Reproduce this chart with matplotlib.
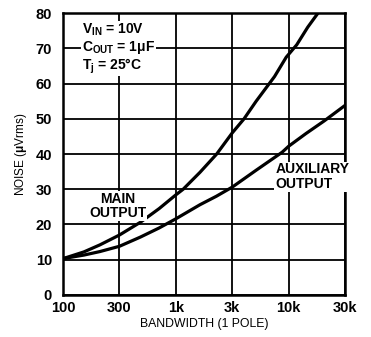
import numpy as np
import matplotlib
matplotlib.use("Agg")
import matplotlib.pyplot as plt

# tick positions (equally spaced on the chart)
tick_hz = [100, 300, 1000, 3000, 10000, 30000]
tick_labels = ["100", "300", "1k", "3k", "10k", "30k"]

# noise curves
main_hz = [100, 150, 205, 300, 468, 700, 1000, 1153, 1600, 2216, 3000, 3860,
           5000, 7400, 9500, 11700, 14500, 17700]
main_uv = [10.3, 12.2, 14.2, 17.0, 20.6, 24.5, 28.4, 30.0, 34.8, 40.0, 46.0, 50.0,
           55.0, 62.0, 67.5, 71.0, 76.0, 80.0]
aux_hz = [100, 150, 205, 300, 468, 700, 1000, 1600, 2200, 3000, 5000, 8700,
          10000, 14000, 20000, 30000]
aux_uv = [10.3, 11.3, 12.3, 13.8, 16.4, 19.0, 21.6, 25.6, 28.0, 30.6, 35.4, 40.5,
          42.2, 45.8, 49.4, 53.8]

plt.rcParams['font.family'] = ['Liberation Sans', 'DejaVu Sans']
plt.rcParams['font.weight'] = 'bold'
plt.rcParams['mathtext.fontset'] = 'custom'
plt.rcParams['mathtext.rm'] = 'Liberation Sans:bold'
plt.rcParams['mathtext.it'] = 'Liberation Sans:bold'
plt.rcParams['mathtext.bf'] = 'Liberation Sans:bold'

logt = np.log10(tick_hz)
idx = np.arange(len(tick_hz))


def fwd(x):
    return np.interp(np.log10(np.clip(x, 1e-9, None)), logt, idx)


def inv(p):
    return 10 ** np.interp(p, idx, logt)


fig = plt.figure(figsize=(3.71, 3.37), dpi=100)
ax = fig.add_axes([0.170, 0.125, 0.760, 0.836])
ax.set_xscale('function', functions=(fwd, inv))
ax.set_xlim(100, 30000)
ax.set_ylim(0, 80)
ax.set_xticks(tick_hz)
ax.set_xticklabels(tick_labels)
ax.set_yticks(range(0, 81, 10))
ax.minorticks_off()
ax.tick_params(length=0, labelsize=10.5)
ax.tick_params(axis='x', pad=4.5)
ax.tick_params(axis='y', pad=8)
ax.grid(True, color='black', lw=1.3)
for s in ax.spines.values():
    s.set_linewidth(1.8)

ax.plot(main_hz, main_uv, color='black', lw=2.3, solid_capstyle='round',
        solid_joinstyle='round', zorder=3)
ax.plot(aux_hz, aux_uv, color='black', lw=2.3, solid_capstyle='round',
        solid_joinstyle='round', zorder=3)

box = dict(facecolor='white', edgecolor='none', pad=0.5)
ax.text(145, 75.3, r'V$_{\rm IN}$ = 10V', fontsize=10, va='center', bbox=box, zorder=4)
ax.text(145, 70.2, r'C$_{\rm OUT}$ = 1$\mu$F', fontsize=10, va='center', bbox=box, zorder=4)
ax.text(145, 65.0, r'T$_{\rm j}$ = 25°C', fontsize=10, va='center', bbox=box, zorder=4)
ax.text(290, 25.2, 'MAIN\nOUTPUT', fontsize=10, ha='center', va='center',
        linespacing=1.05, bbox=box, zorder=4)
ax.text(7500, 33.6, 'AUXILIARY\nOUTPUT', fontsize=10, ha='left', va='center',
        linespacing=1.05, bbox=box, zorder=4)

ax.set_xlabel('BANDWIDTH (1 POLE)', fontsize=8.8, labelpad=2)
ax.set_ylabel(r'NOISE ($\mu$Vrms)', fontsize=8.5, labelpad=5)

fig.savefig('out.png', dpi=100)
